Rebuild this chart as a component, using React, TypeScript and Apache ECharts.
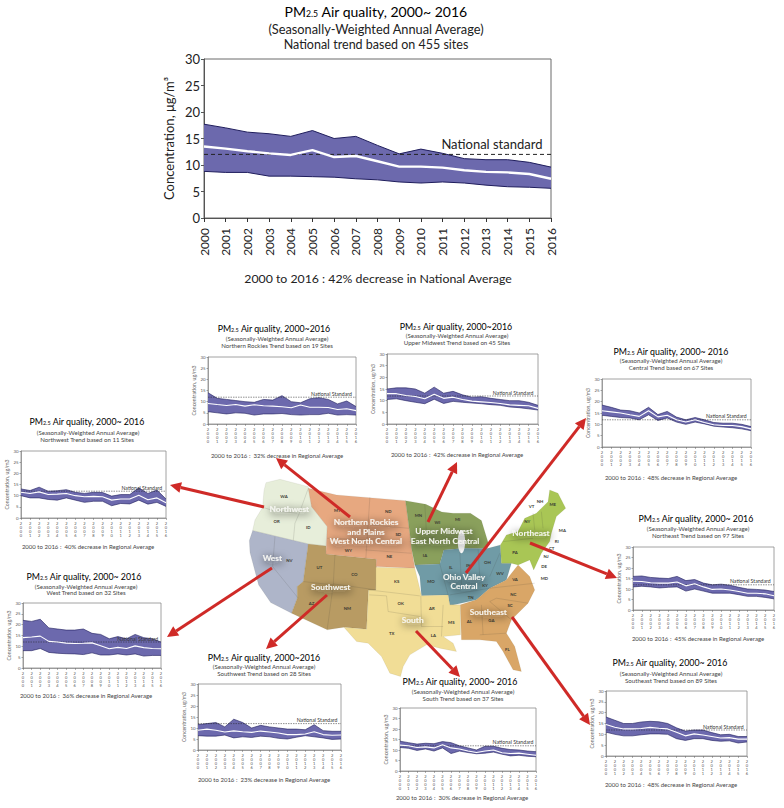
import React, { useEffect, useRef } from "react";
import * as echarts from "echarts";

const FONT = "Lato, 'Open Sans', sans-serif";

const years = ["2000","2001","2002","2003","2004","2005","2006","2007","2008","2009","2010","2011","2012","2013","2014","2015","2016"];
const yTicks = [0, 5, 10, 15, 20, 25, 30];
const standardValue = 12;

const nationalUpper = [17.7,17.0,16.2,15.9,15.4,16.5,15.0,15.4,13.7,12.1,13.0,12.2,11.2,11.0,11.0,10.5,9.6];
const nationalMean = [13.5,13.1,12.6,12.2,11.9,12.8,11.5,11.7,10.7,9.7,9.7,9.5,9.0,8.7,8.6,8.3,7.4];
const nationalLower = [8.8,8.6,8.6,7.9,7.9,7.8,7.7,7.4,7.2,6.8,6.6,6.8,6.6,6.2,5.9,5.8,5.6];

const northwestUpper = [13,12.3,13.8,12,12.2,12.7,11.5,11,11.5,11.4,9.8,10.5,10.5,13.5,11,12.5,8.5];
const northwestMean = [11.5,11,11.7,10.5,10.7,11,10,9.5,9.7,9.5,8,8.5,8.5,10.2,8.2,9,6.8];
const northwestLower = [10,9,9,8.3,8,9,8,7,7.5,7.5,5.5,6.5,6.3,8,6.2,7,5.2];

const westUpper = [22,21.5,22.5,18.5,18,17.5,17.5,18,16,15.5,13.5,14.5,13.5,15.5,14,13.5,12];
const westMean = [14,14.3,14.7,12.3,12,11.5,11.3,11.4,11.6,10.3,8.9,9.5,9,10.2,9.4,9,8.9];
const westLower = [8,8,9,7.2,6.8,6.6,6.5,6.2,7,6,6,6.5,6,6.5,5.5,5.8,5.8];

const rockiesUpper = [14,11.5,11,10.5,10,9.7,11,10.7,12.7,10,9.5,11.3,11.8,11,9,10.3,7.8];
const rockiesMean = [9.2,8.7,8.3,8.7,8,8.6,8.2,8,7.7,7.3,8.5,7.5,7.5,7.4,6.5,6.8,6];
const rockiesLower = [5.5,5,4.5,5,4.8,4,4.5,4.5,4.7,4.2,4,4.2,4.2,4.8,4,4.2,4];

const midwestUpper = [15,15.5,15.5,15,13.2,15.8,13.2,14,12.5,11.5,11.7,11,10.5,10,10,9.3,8];
const midwestMean = [13,13,12.2,11.8,10.8,12.8,11,11.5,10.5,9.8,9.5,9.2,8.8,8.2,8,7.8,6.7];
const midwestLower = [10.5,10.8,10,9.3,8.7,10.6,8.8,9.7,9.3,9,8.7,8.3,8,7.3,7,6.5,6];

const centralUpper = [18.5,17.5,16.3,16,15,17.5,14.3,15.7,13.2,12,13,12,10.8,10.5,10.5,10,9];
const centralMean = [16,15.5,15,14.2,13.5,16,13.3,14,12,11,12,10.8,9.8,9.5,9.5,9,8];
const centralLower = [14,13.5,13,12.8,12,14.2,11.7,12.8,11,10,11,10.2,9.2,8.8,8.5,8,7.2];

const northeastUpper = [16,16.2,15.5,15.2,15,16,14,14.5,12.8,12,12.3,11.8,10.8,10,9.8,9.5,8.8];
const northeastMean = [13.7,13.6,13,12.8,12.8,13.3,11.5,12.5,11,9.8,10,9.5,8.8,8,8,7.7,6.8];
const northeastLower = [11,11.3,11,10.5,10.8,11,9,10,9,8,8,8,7.3,6.5,6.5,6,5.3];

const southwestUpper = [11.5,12,12.5,10.5,14,12.5,10,11.2,10.5,10,9.5,9.5,9.2,11.5,8.8,8.5,8.5];
const southwestMean = [9,9.5,9,8.2,8.7,8.3,8,8.6,8.2,7.7,7,7,7.3,8.3,7,6.7,6.8];
const southwestLower = [6.5,6.3,6.3,6.8,5.5,6,5.7,6.3,6,5.3,5,5.8,6.5,6,5.5,4.8,5];

const southUpper = [14.2,13.5,12.8,13.2,13,14,13.5,12,11,10,11.8,11.8,10.8,10.2,10,9.5,9.2];
const southMean = [12.3,12,11.2,11.5,11,12.5,11,10.5,9.5,8.8,9.5,10,8.7,8.3,8.5,8,7.5];
const southLower = [11.2,10.8,9.8,10.5,9.5,11,8.3,9.5,8.8,8.2,8.5,9,8,7.2,7.5,7,6.8];

const southeastUpper = [18,16.5,15,15,15.7,16,15.8,15,13,11.5,12,12,10.8,9.8,10,9,9];
const southeastMean = [14.5,13.3,12.5,12.5,12.7,13.2,12.8,12.5,11,9.3,10.2,9.7,9,8.3,8.5,7.8,7.8];
const southeastLower = [11,10,9.3,9.3,9.8,10.2,10.2,10,8,7.2,8,8,7.2,6.8,7,6,6.5];

const panels = [
  { up: northwestUpper, mean: northwestMean, low: northwestLower, sub: "Northwest Trend based on 11 Sites", foot: "2000 to 2016 :  40% decrease in Regional Average", g: [21,166,451,518], t: [87,421], s1: [88,432], s2: [87,439], f: [88,546], titleText: "2000~ 2016" },
  { up: westUpper, mean: westMean, low: westLower, sub: "West Trend based on 32 Sites", foot: "2000 to 2016 :  36% decrease in Regional Average", g: [23,161,603,668], t: [84,576], s1: [86,586], s2: [86,592], f: [86,695], titleText: "2000~ 2016" },
  { up: rockiesUpper, mean: rockiesMean, low: rockiesLower, sub: "Northern Rockies Trend based on 19 Sites", foot: "2000 to 2016 :  32% decrease in Regional Average", g: [208,356,357,424], t: [274,328], s1: [277,338], s2: [277,345], f: [277,455], titleText: "2000~2016" },
  { up: midwestUpper, mean: midwestMean, low: midwestLower, sub: "Upper Midwest Trend based on 45 Sites", foot: "2000 to 2016 :  42% decrease in Regional Average", g: [387,538,354,424], t: [456,326], s1: [457,335], s2: [457,342], f: [457,454], titleText: "2000~2016" },
  { up: centralUpper, mean: centralMean, low: centralLower, sub: "Central Trend based on 67 Sites", foot: "2000 to 2016 :  48% decrease in Regional Average", g: [602,751,379,447], t: [671,351], s1: [671,360], s2: [671,367], f: [671,477], titleText: "2000~ 2016" },
  { up: northeastUpper, mean: northeastMean, low: northeastLower, sub: "Northeast Trend based on 97 Sites", foot: "2000 to 2016 :  45% decrease in Regional Average", g: [633,774,547,610], t: [696,518], s1: [698,528], s2: [698,535], f: [698,638], titleText: "2000~ 2016" },
  { up: southwestUpper, mean: southwestMean, low: southwestLower, sub: "Southwest Trend based on 28 Sites", foot: "2000 to 2016 :  23% decrease in Regional Average", g: [198,341,684,750], t: [264,657], s1: [264,666], s2: [264,673], f: [264,779], titleText: "2000~2016" },
  { up: southUpper, mean: southMean, low: southLower, sub: "South Trend based on 37 Sites", foot: "2000 to 2016 :  30% decrease in Regional Average", g: [400,536,708,771], t: [460,681], s1: [463,691], s2: [463,698], f: [462,797], titleText: "2000~ 2016" },
  { up: southeastUpper, mean: southeastMean, low: southeastLower, sub: "Southeast Trend based on 89 Sites", foot: "2000 to 2016 :  48% decrease in Regional Average", g: [606,747,691,756], t: [670,662], s1: [671,673], s2: [671,680], f: [671,784], titleText: "2000~ 2016" },
];

// Map outlines in a 3x space, placed at (240, 470) on the page.
const regionShapes = [
  { fill: "#e7eeda", pts: [[78,38],[120,28],[205,50],[215,110],[262,170],[258,228],[205,222],[160,212],[38,182],[45,150],[68,112],[72,62]] },
  { fill: "#aeb5c9", pts: [[38,182],[205,222],[190,335],[172,350],[172,385],[155,430],[92,398],[56,345],[30,248],[28,212]] },
  { fill: "#b89b63", pts: [[205,222],[258,228],[258,252],[410,268],[408,360],[386,360],[380,478],[312,472],[262,480],[155,430],[172,385],[172,350],[190,335]] },
  { fill: "#e7a880", pts: [[205,55],[290,75],[497,92],[510,190],[515,235],[525,295],[408,290],[410,268],[258,252],[262,170],[215,110]] },
  { fill: "#8aa05c", pts: [[497,92],[558,103],[606,126],[640,130],[692,130],[725,152],[745,218],[742,236],[670,235],[612,240],[600,282],[525,285],[515,235],[510,190]] },
  { fill: "#709ba6", pts: [[525,285],[600,282],[612,240],[670,235],[742,236],[782,225],[785,280],[815,280],[800,330],[750,355],[710,390],[630,408],[625,375],[545,378],[540,320]] },
  { fill: "#f1dd96", pts: [[408,292],[525,295],[545,378],[625,375],[630,405],[662,405],[662,495],[610,500],[640,520],[650,545],[600,535],[560,525],[510,555],[490,590],[482,620],[450,610],[425,560],[385,520],[350,515],[312,472],[380,478],[386,360],[408,360]] },
  { fill: "#d9a667", pts: [[662,405],[710,390],[750,355],[800,330],[835,285],[870,320],[885,360],[865,400],[815,450],[800,490],[825,530],[845,605],[820,600],[790,545],[770,515],[720,510],[665,510]] },
  { fill: "#a9c655", pts: [[782,225],[800,195],[835,185],[855,145],[890,130],[925,95],[930,60],[955,70],[978,115],[950,140],[935,190],[930,215],[905,250],[882,300],[870,270],[835,285],[815,280],[785,280]] },
];
const lakeShape = { cx: 665, cy: 215, rx: 11, ry: 35 };
const stateLines = [
  [[68,112],[100,122],[172,130]], [[205,55],[178,130],[165,160],[160,212]],
  [[105,200],[98,290],[175,385]], [[285,255],[280,345]], [[190,335],[280,345],[262,478]], [[280,342],[408,360]],
  [[390,82],[378,265]], [[390,165],[507,175]], [[262,205],[380,210]], [[376,240],[515,250]],
  [[555,103],[560,190],[600,218]], [[510,215],[600,220]], [[600,282],[625,375]], [[660,240],[665,345]], [[715,238],[720,320]],
  [[780,250],[750,320]], [[630,375],[750,355]], [[386,360],[540,378]], [[388,375],[440,378],[445,425],[540,440]], [[543,378],[545,470]],
  [[545,470],[610,470]], [[610,405],[605,500]], [[725,405],[730,495]], [[720,495],[800,490]], [[750,395],[815,450]], [[750,395],[770,385],[865,400]],
  [[750,355],[885,340]], [[790,215],[880,205]], [[880,130],[885,180]], [[905,125],[910,175]],
];
const stateLabels = [
  ["WA",132,78],["OR",110,155],["ID",205,173],["MT",292,122],["ND",445,125],["SD",475,192],["WY",325,240],["NE",448,260],["NV",148,272],["UT",238,293],["CO",343,313],["AZ",215,400],["NM",322,415],["KS",470,333],["OK",482,400],["TX",455,490],["AR",576,416],["LA",580,495],["MS",634,458],["AL",688,455],["GA",754,450],["FL",802,538],["SC",810,405],["NC",820,372],["VA",825,327],["TN",692,383],["KY",735,347],["WV",780,310],["OH",742,277],["IN",685,285],["IL",632,292],["MO",573,335],["IA",555,257],["WI",592,157],["MN",535,137],["MI",653,147],["PA",825,248],["NY",862,153],["VT",875,110],["NH",900,93],["ME",938,104],["MA",967,182],["RI",950,215],["CT",935,235],["NJ",918,258],["DE",912,288],["MD",913,325],
];
const regionLabels = [
  ["Northwest",148,117],["Northern Rockies",378,155],["and Plains",378,186],["West North Central",378,214],["Upper Midwest",612,184],["East North Central",615,212],["Northeast",873,188],["West",97,265],["Southwest",272,350],["Ohio Valley",672,320],["Central",672,349],["South",518,449],["Southeast",745,425],
];
const arrows = [
  [264,507,170,485],[272,568,167,637],[350,517,276,458],[428,522,457,462],[466,573,586,418],[530,543,617,578],[512,617,590,725],[416,631,460,677],[327,595,266,649],
];

function titleRich(size: number) {
  return {
    a: { fontSize: size, fontFamily: FONT, color: "#1c1c1c" },
    b: { fontSize: size * 0.62, fontFamily: FONT, color: "#1c1c1c", verticalAlign: "bottom", padding: [size * 0.35, 0, 0, 0] },
  };
}
function label(text: string, x: number, y: number, size: number, color = "#333", extra: any = {}) {
  return { type: "text", z: 20, x, y, style: { text, fontSize: size, fontFamily: FONT, fill: color, align: "center", verticalAlign: "middle", ...extra } };
}
function titleText(tail: string, x: number, y: number, size: number) {
  return { type: "text", z: 20, x, y, style: { text: `{a|PM}{b|2.5}{a| Air quality, ${tail}}`, rich: titleRich(size), align: "center", verticalAlign: "middle", fontFamily: FONT, fontSize: size } };
}

function buildPanel(o: any, i: number, p: { up: number[]; mean: number[]; low: number[]; g: number[] }, big: boolean) {
  const [l, r, t, b] = p.g;
  o.grid.push({ left: l, top: t, width: r - l, height: b - t, show: true, borderColor: big ? "#6a6a6a" : "#8a8a8a", borderWidth: big ? 1 : 0.8, backgroundColor: "transparent" });
  o.xAxis.push({
    type: "category", gridIndex: i, data: years, boundaryGap: false,
    axisLine: { show: true, onZero: false, lineStyle: { color: big ? "#555" : "#777", width: big ? 1 : 0.6 } },
    axisTick: { show: true, alignWithLabel: true, length: big ? 4 : 2, interval: 0, lineStyle: { color: big ? "#333" : "#666", width: big ? 1 : 0.5 } },
    axisLabel: big
      ? { interval: 0, rotate: 90, fontSize: 12, fontFamily: FONT, color: "#222", margin: 10 }
      : { interval: 0, fontSize: 4, lineHeight: 3.8, fontFamily: FONT, color: "#555", margin: 4, formatter: (v: string) => v.split("").join("\n") },
    splitLine: { show: false },
  });
  o.yAxis.push({
    type: "value", gridIndex: i, min: 0, max: 30, interval: 5,
    name: big ? "Concentration, μg/m³" : "Concentration, ug/m3",
    nameLocation: "middle", nameRotate: 90, nameGap: big ? 29 : 12,
    nameTextStyle: { fontSize: big ? 13 : 5.2, fontFamily: FONT, color: big ? "#222" : "#666" },
    axisLine: { show: true, lineStyle: { color: big ? "#555" : "#777", width: big ? 1 : 0.6 } },
    axisTick: { show: true, length: big ? 3 : 1.5, lineStyle: { color: "#555", width: big ? 1 : 0.5 } },
    axisLabel: { fontSize: big ? 13 : 4.4, fontFamily: FONT, color: big ? "#222" : "#555", margin: big ? 4 : 2.5, customValues: yTicks },
    splitLine: { show: false },
  });
  const outline = { color: "#1f1d5c", width: big ? 1 : 0.6 };
  const common = { type: "line", xAxisIndex: i, yAxisIndex: i, symbol: "none", silent: true };
  o.series.push(
    { ...common, stack: "band" + i, data: p.low, lineStyle: outline },
    { ...common, stack: "band" + i, data: p.up.map((u, k) => +(u - p.low[k]).toFixed(2)), lineStyle: outline, areaStyle: { color: "#6c69ad", opacity: 1 } },
    {
      ...common, z: 4, symbol: "circle", symbolSize: 0, showSymbol: true, showAllSymbol: true,
      data: years.map((_, k) => k === (big ? 13 : 14)
        ? { value: standardValue, label: { show: true, position: "top", distance: big ? 4 : 1, offset: big ? [6, 0] : [-6, 0], formatter: big ? "National standard" : "National Standard", fontSize: big ? 13 : 5.2, fontFamily: FONT, color: big ? "#222" : "#333" } }
        : standardValue),
      lineStyle: { color: "#222", width: big ? 1 : 0.5, type: big ? [4, 3] : [1.5, 1] },
    },
    { ...common, z: 5, data: p.mean, lineStyle: { color: "#ffffff", width: big ? 2.4 : 1.1 } },
  );
}

function arrowGraphics(a: number[]) {
  const [x1, y1, x2, y2] = a;
  const ang = Math.atan2(y2 - y1, x2 - x1);
  const L = 11, W = 5.5;
  const bx = x2 - L * Math.cos(ang), by = y2 - L * Math.sin(ang);
  const nx = -Math.sin(ang), ny = Math.cos(ang);
  return [
    { type: "line", z: 30, shape: { x1, y1, x2: bx, y2: by }, style: { stroke: "#cf2a27", lineWidth: 3 } },
    { type: "polygon", z: 30, shape: { points: [[x2, y2], [bx + nx * W, by + ny * W], [bx - nx * W, by - ny * W]] }, style: { fill: "#cf2a27" } },
  ];
}

function mapGraphics() {
  const children: any[] = [];
  regionShapes.forEach((r) => children.push({ type: "polygon", shape: { points: r.pts }, style: { fill: r.fill, stroke: "rgba(90,80,60,0.25)", lineWidth: 1 } }));
  children.push({ type: "ellipse", shape: lakeShape, style: { fill: "#ffffff" } });
  stateLines.forEach((pts) => children.push({ type: "polyline", shape: { points: pts }, style: { stroke: "rgba(60,60,50,0.28)", lineWidth: 1.5, fill: "none" } }));
  stateLabels.forEach(([t, x, y]) => children.push({ type: "text", x, y, style: { text: t, fontSize: 13, fontWeight: "bold", fontFamily: FONT, fill: "#3a3a32", align: "center", verticalAlign: "middle" } }));
  regionLabels.forEach(([t, x, y]) => children.push({ type: "text", x, y, style: { text: t, fontSize: 25, fontWeight: "bold", fontFamily: FONT, fill: "#f4f4f0", align: "center", verticalAlign: "middle", textShadowColor: "#1d1d1d", textShadowBlur: 8, textShadowOffsetX: 1, textShadowOffsetY: 2 } }));
  return { type: "group", x: 240, y: 470, scaleX: 1 / 3, scaleY: 1 / 3, z: 1, children };
}

export default function App() {
  const ref = useRef<HTMLDivElement>(null);
  useEffect(() => {
    const chart = echarts.init(ref.current!, undefined, { renderer: "svg" });
    const o: any = { animation: false, backgroundColor: "#ffffff", grid: [], xAxis: [], yAxis: [], series: [], graphic: [] };
    buildPanel(o, 0, { up: nationalUpper, mean: nationalMean, low: nationalLower, g: [204, 551, 59, 218] }, true);
    panels.forEach((p, i) => buildPanel(o, i + 1, p, false));

    const elements: any[] = [mapGraphics()];
    elements.push(titleText("2000~ 2016", 376, 11, 14));
    elements.push(label("(Seasonally-Weighted Annual Average)", 376, 29, 12.8, "#222"));
    elements.push(label("National trend based on 455 sites", 376, 44, 12.5, "#222"));
    elements.push(label("2000 to 2016 : 42% decrease in National Average", 378, 278, 12.3, "#222"));
    panels.forEach((p) => {
      elements.push(titleText(p.titleText, p.t[0], p.t[1], 8.8));
      elements.push(label("(Seasonally-Weighted Annual Average)", p.s1[0], p.s1[1], 6.1, "#444"));
      elements.push(label(p.sub, p.s2[0], p.s2[1], 6.1, "#444"));
      elements.push(label(p.foot, p.f[0], p.f[1], 6, "#444"));
    });
    arrows.forEach((a) => elements.push(...arrowGraphics(a)));
    o.graphic = { elements };
    chart.setOption(o);
    return () => chart.dispose();
  }, []);
  return <div ref={ref} style={{ position: "absolute", left: 0, top: 0, width: 784, height: 808 }} />;
}
